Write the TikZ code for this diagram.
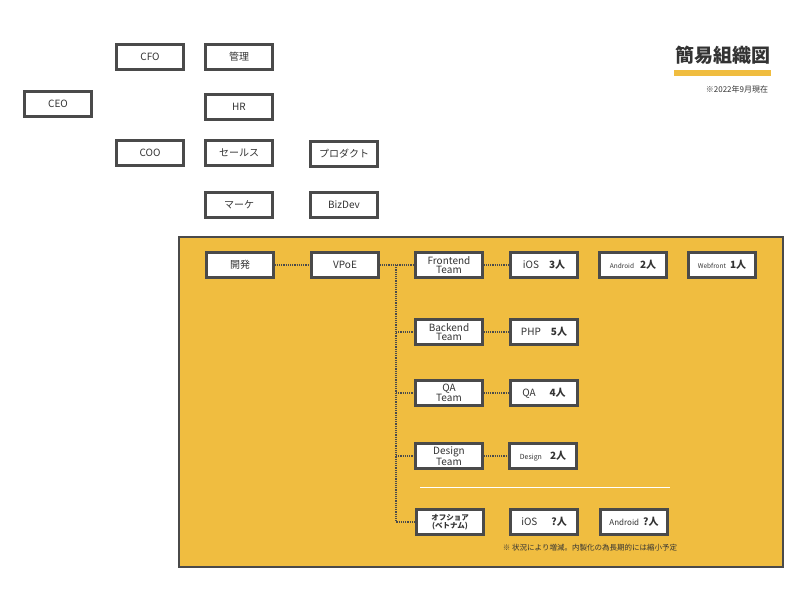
\documentclass[tikz,border=0pt]{standalone}
\usepackage{fontspec}
\setmainfont{Noto Sans CJK JP}
\usepackage{tikz}
\usetikzlibrary{positioning,calc}

\definecolor{boxline}{HTML}{4A4A4A}
\definecolor{orgtext}{HTML}{333333}
\definecolor{devyellow}{HTML}{F0BD40}

\tikzset{
  orgbox/.style={draw=boxline, line width=2.2pt, fill=white, text=orgtext,
    minimum width=67pt, minimum height=25pt, inner sep=1pt, align=center,
    font=\fontsize{10}{9.5}\selectfont},
  link/.style={draw=boxline, densely dotted, line width=1.2pt},
}

\begin{document}
\begin{tikzpicture}[x=1pt,y=-1pt]
            \useasboundingbox (0,0) rectangle (800,594);
            % management
            \node[orgbox] (ceo) at (58,104) {CEO};
            \node[orgbox] (cfo) at (150,57) {CFO};
            \node[orgbox] (coo) at (150,153) {COO};
            \node[orgbox] (kanri) at (239,57) {管理};
            \node[orgbox] (hr) at (239,107) {HR};
            \node[orgbox] (sales) at (239,153) {セールス};
            \node[orgbox] (marke) at (239,205) {マーケ};
            \node[orgbox] (product) at (344,154) {プロダクト};
            \node[orgbox] (bizdev) at (344,205) {BizDev};

            % title
            \node[text=orgtext, font=\fontsize{19}{20}\selectfont\bfseries] (title) at (723,55) {簡易組織図};
            \fill[devyellow] (674,70) rectangle (771,76);
            \node[text=orgtext, font=\fontsize{8}{8}\selectfont] (date) at (737,89) {※2022年9月現在};

            % development
            \draw[boxline, line width=1.5pt, fill=devyellow] (179,237) rectangle (783,567);
            \node[orgbox] (kaihatsu) at (240,265) {開発};
            \node[orgbox] (vpoe) at (345,265) {VPoE};
            \node[orgbox] (front) at (449,265) {Frontend\\Team};
            \node[orgbox] (back) at (449,332) {Backend\\Team};
            \node[orgbox] (qa) at (449,393) {QA\\Team};
            \node[orgbox] (design) at (449,456) {Design\\Team};
            \node[orgbox, font=\fontsize{7.5}{7.5}\selectfont\bfseries] (offshore) at (450,522) {オフショア\\(ベトナム)};

            \node[orgbox] (ios) at (544,265) {iOS\hspace{10pt}\textbf{3人}};
            \node[orgbox] (android) at (633,265) {{\fontsize{6.5}{6}\selectfont Android}\hspace{6pt}\textbf{2人}};
            \node[orgbox] (webfront) at (722,265) {{\fontsize{6.5}{6}\selectfont Webfront}\hspace{4pt}\textbf{1人}};
            \node[orgbox] (php) at (544,332) {PHP\hspace{10pt}\textbf{5人}};
            \node[orgbox] (qamem) at (544,393) {QA\hspace{14pt}\textbf{4人}};
            \node[orgbox] (designmem) at (543,456) {{\fontsize{7}{7}\selectfont Design}\hspace{8pt}\textbf{2人}};
            \node[orgbox] (iosoff) at (544,522) {iOS\hspace{14pt}\textbf{?人}};
            \node[orgbox] (androidoff) at (634,522) {{\fontsize{8}{8}\selectfont Android}\hspace{4pt}\textbf{?人}};

            \draw[white, line width=0.8pt] (420,487) -- (670,487);
            \node[text=orgtext, font=\fontsize{7.5}{8}\selectfont] (note) at (590,548) {※ 状況により増減。内製化の為長期的には縮小予定};

            % dotted links
            \coordinate (trunk) at (396,265);
            \draw[link] (kaihatsu) -- (vpoe);
            \draw[link] (vpoe) -- (front);
            \draw[link] (trunk) |- (offshore.west);
            \foreach \team in {back,qa,design} {
                \draw[link] (trunk |- \team.west) -- (\team.west);
            }
            \foreach \team/\member in {front/ios,back/php,qa/qamem,design/designmem} {
                \draw[link] (\team) -- (\member);
            }
        \end{tikzpicture}
\end{document}
